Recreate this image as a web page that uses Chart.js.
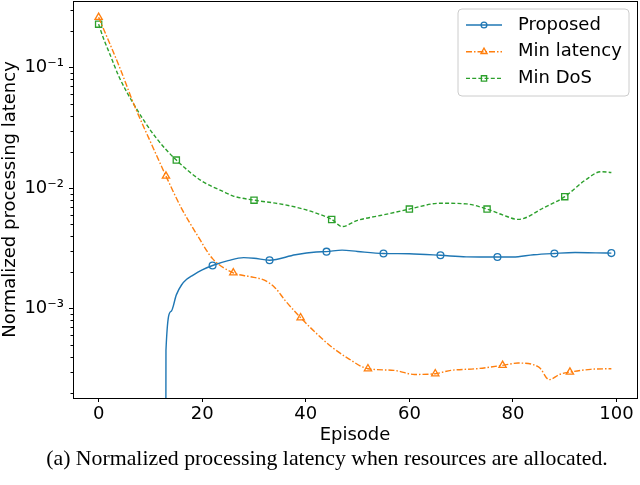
<!DOCTYPE html>
<html>
<head>
<meta charset="utf-8">
<script src="https://cdn.jsdelivr.net/npm/chart.js@4.4.0/dist/chart.umd.min.js"></script>
<style>
  html, body { margin: 0; padding: 0; background: #fff; }
</style>
</head>
<body>
<canvas id="chart" width="640" height="485"></canvas>
<script>
// ---- data ----
const episodesProposed = [0, 11, 12, 13, 14, 15, 16, 17, 18, 20, 22, 25, 28, 30, 33, 38, 42, 44, 47, 50, 55, 60, 66, 71, 77, 80, 84, 88, 92, 96, 99];
const proposed = [0, 0, 0, 0.00045, 0.00095, 0.0013, 0.00157, 0.00175, 0.00187, 0.0021, 0.00228, 0.0025, 0.00265, 0.00262, 0.00252, 0.0028, 0.00295, 0.00297, 0.00306, 0.00298, 0.00287, 0.00285, 0.00277, 0.00269, 0.00268, 0.00268, 0.0028, 0.00287, 0.00292, 0.0029, 0.00289];

const episodesLatency = [0, 4, 7, 10, 13, 16, 19, 22, 26, 29, 32, 34, 36, 39, 43, 45, 48, 52, 57, 61, 65, 68, 73, 78, 81, 85, 87, 89, 91, 95, 99];
const minLatency = [0.262, 0.102, 0.0474, 0.0243, 0.0126, 0.0068, 0.0041, 0.0026, 0.00198, 0.00185, 0.00172, 0.0015, 0.00117, 0.00084, 0.00057, 0.00048, 0.00039, 0.000317, 0.000307, 0.000284, 0.000288, 0.000307, 0.000317, 0.000338, 0.000353, 0.000327, 0.000257, 0.000284, 0.000297, 0.000313, 0.000317];

const episodesDoS = [0, 1, 2, 4, 7, 11, 15, 20, 24, 26, 30, 35, 39, 42, 45, 47, 50, 55, 60, 66, 71, 75, 78, 81, 86, 90, 94, 97, 99];
const minDoS = [0.23, 0.172, 0.135, 0.083, 0.048, 0.0265, 0.0171, 0.0114, 0.0094, 0.0086, 0.00795, 0.0074, 0.0068, 0.0062, 0.0055, 0.0048, 0.0054, 0.006, 0.0067, 0.0075, 0.0074, 0.0067, 0.006, 0.0055, 0.0069, 0.0085, 0.0117, 0.0137, 0.0135];

const seriesLabels = ['Proposed', 'Min latency', 'Min DoS'];
const xTicks = [0, 20, 40, 60, 80, 100];
const yMajorTicks = [1e-3, 1e-2, 1e-1];
const xTitle = 'Episode';
const yTitle = 'Normalized processing latency';
const caption = '(a) Normalized processing latency when resources are allocated.';

// ---- helpers ----
const SUP = {'-': '\u207B', '0': '\u2070', '1': '\u00B9', '2': '\u00B2', '3': '\u00B3', '4': '\u2074', '5': '\u2075', '6': '\u2076', '7': '\u2077', '8': '\u2078', '9': '\u2079'};
function powLabel(v) {
    const e = Math.round(Math.log10(v));
    return '10' + String(e).split('').map(c => SUP[c]).join('');
}
// matplotlib clips non-positive values on a log axis, do the same
function toPoints(xs, ys) {
    return xs.map((x, i) => ({x: x, y: ys[i] > 0 ? ys[i] : 1e-30}));
}
function markEvery(n, r) {
    return ctx => (ctx.raw && ctx.raw.x % n === 0) ? r : 0;
}
function drawMarker(ctx, style, x, y, r) {
    ctx.beginPath();
    if (style === 'circle') {
        ctx.arc(x, y, r, 0, Math.PI * 2);
    } else if (style === 'rect') {
        const s = r * Math.SQRT1_2;
        ctx.rect(x - s, y - s, 2 * s, 2 * s);
    } else {
        for (let k = 0; k < 3; k++) {
            const a = k * 2 * Math.PI / 3;
            const px = x + Math.sin(a) * r, py = y - Math.cos(a) * r;
            if (k === 0) ctx.moveTo(px, py); else ctx.lineTo(px, py);
        }
        ctx.closePath();
    }
    ctx.stroke();
}

const FONT = 'DejaVu Sans';
const COLORS = ['#1f77b4', '#ff7f0e', '#2ca02c'];
const DASHES = [[], [6, 2, 1.5, 2], [4, 2.2]];
const STYLES = ['circle', 'triangle', 'rect'];
const RADII = [3.4, 4.2, 4.4];

//----------------------------------------- extras: frame, minor ticks, legend, caption
const extras = {
    id: 'extras',
    afterDraw(chart) {
        const ctx = chart.ctx;
        const a = chart.chartArea;
        const ys = chart.scales.y;
        ctx.save();
        // frame
        ctx.strokeStyle = '#000';
        ctx.lineWidth = 1;
        ctx.strokeRect(Math.round(a.left) + 0.5, Math.round(a.top) + 0.5, Math.round(a.right - a.left), Math.round(a.bottom - a.top));
        // minor ticks on the log axis
        const lo = Math.floor(Math.log10(ys.min)), hi = Math.ceil(Math.log10(ys.max));
        for (let d = lo; d <= hi; d++) {
            for (let m = 2; m <= 9; m++) {
                const v = m * Math.pow(10, d);
                if (v < ys.min || v > ys.max) continue;
                const py = Math.round(ys.getPixelForValue(v)) + 0.5;
                ctx.beginPath();
                ctx.moveTo(a.left, py);
                ctx.lineTo(a.left - 2.5, py);
                ctx.stroke();
            }
        }
        // legend
        const bx = 458, by = 9, bw = 171, bh = 87, rr = 4;
        ctx.fillStyle = 'rgba(255,255,255,0.8)';
        ctx.strokeStyle = '#cccccc';
        ctx.beginPath();
        ctx.moveTo(bx + rr, by);
        ctx.arcTo(bx + bw, by, bx + bw, by + bh, rr);
        ctx.arcTo(bx + bw, by + bh, bx, by + bh, rr);
        ctx.arcTo(bx, by + bh, bx, by, rr);
        ctx.arcTo(bx, by, bx + bw, by, rr);
        ctx.closePath();
        ctx.fill();
        ctx.stroke();
        chart.data.datasets.forEach((ds, i) => {
            const ry = 25 + i * 26.7;
            ctx.strokeStyle = ds.borderColor;
            ctx.lineWidth = ds.borderWidth;
            ctx.setLineDash(ds.borderDash || []);
            ctx.beginPath();
            ctx.moveTo(466, ry);
            ctx.lineTo(502, ry);
            ctx.stroke();
            ctx.setLineDash([]);
            ctx.lineWidth = 1.3;
            drawMarker(ctx, STYLES[i], 484, ry, RADII[i] * 0.85);
            ctx.fillStyle = '#000';
            ctx.font = '18px "' + FONT + '"';
            ctx.textBaseline = 'middle';
            ctx.textAlign = 'left';
            ctx.fillText(ds.label, 518, ry);
        });
        // caption
        ctx.fillStyle = '#000';
        ctx.font = '21.8px "Liberation Serif"';
        ctx.textAlign = 'center';
        ctx.textBaseline = 'middle';
        ctx.fillText(caption, 327, 459);
        ctx.restore();
    }
};

const series = [
    toPoints(episodesProposed, proposed),
    toPoints(episodesLatency, minLatency),
    toPoints(episodesDoS, minDoS)
];
const every = [11, 13, 15];

const datasets = series.map((pts, i) => ({
    label: seriesLabels[i],
    data: pts,
    borderColor: COLORS[i],
    borderWidth: 1.4,
    borderDash: DASHES[i],
    cubicInterpolationMode: 'monotone',
    fill: false,
    pointStyle: STYLES[i],
    pointRadius: markEvery(every[i], RADII[i]),
    pointHoverRadius: 0,
    pointBorderColor: COLORS[i],
    pointBackgroundColor: 'rgba(0,0,0,0)',
    pointBorderWidth: 1.3
}));

const tickFont = {family: FONT, size: 18};

new Chart(document.getElementById('chart'), {
    type: 'line',
    data: {datasets: datasets},
    options: {
        responsive: false,
        animation: false,
        events: [],
        layout: {autoPadding: false, padding: {top: 1, right: 3, bottom: 39, left: 0}},
        plugins: {legend: {display: false}, tooltip: {enabled: false}},
        scales: {
            x: {
                type: 'linear',
                min: -4.95,
                max: 103.95,
                afterBuildTicks: s => { s.ticks = xTicks.map(v => ({value: v})); },
                afterFit: s => { s.height = 48; s.paddingLeft = 0; s.paddingRight = 0; },
                ticks: {color: '#000', font: tickFont, padding: 2, maxRotation: 0, autoSkip: false},
                grid: {drawOnChartArea: false, drawTicks: true, tickLength: 4, tickColor: '#000'},
                border: {display: false},
                title: {display: true, text: xTitle, color: '#000', font: tickFont, padding: {top: 0, bottom: 0}}
            },
            y: {
                type: 'logarithmic',
                min: 1.81e-4,
                max: 0.358,
                afterBuildTicks: s => { s.ticks = yMajorTicks.map(v => ({value: v, major: true})); },
                afterFit: s => { s.width = 73; s.paddingTop = 0; s.paddingBottom = 0; },
                ticks: {color: '#000', font: tickFont, padding: 5, autoSkip: false, callback: v => powLabel(v)},
                grid: {drawOnChartArea: false, drawTicks: true, tickLength: 4, tickColor: '#000'},
                border: {display: false},
                title: {display: true, text: yTitle, color: '#000', font: tickFont, padding: {top: 0, bottom: 0}}
            }
        }
    },
    plugins: [extras]
});
</script>
</body>
</html>
